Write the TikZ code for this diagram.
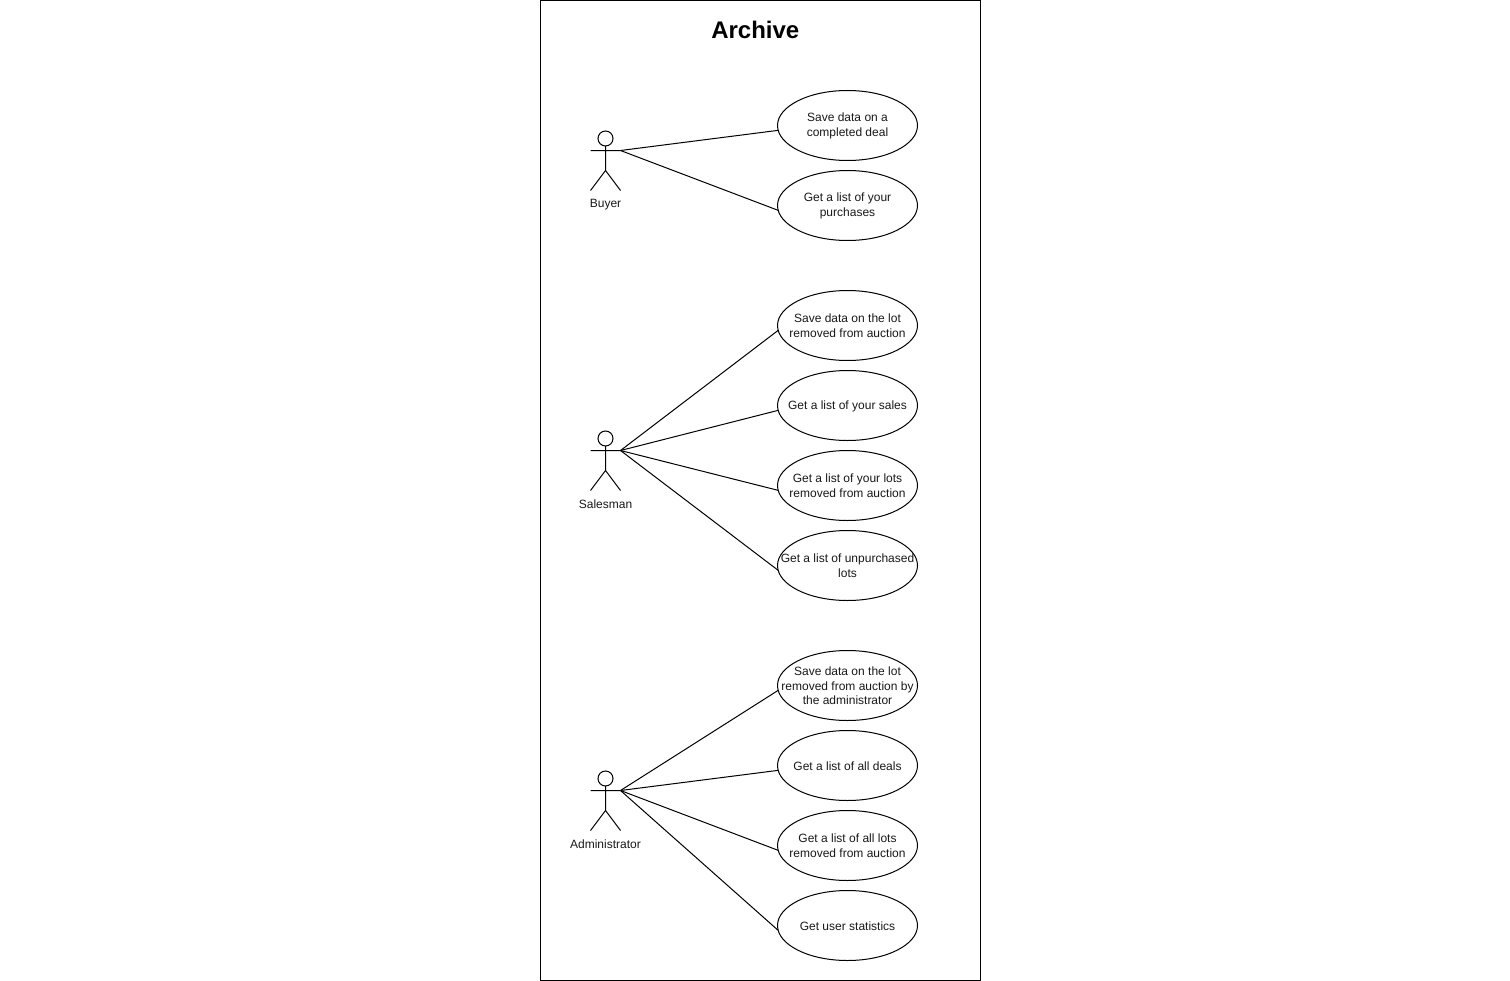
\documentclass[tikz,border=0pt]{standalone}
\usepackage{fontspec}
\setmainfont{Liberation Sans}
\usetikzlibrary{shapes.geometric}
\tikzset{
  x=0.75pt, y=-0.75pt,
  line/.style={draw=black, line width=0.75pt},
  frame/.style={line},
  uctext/.style={align=center, font=\fontsize{9}{11}\selectfont, text=black!90, inner sep=0pt, yshift=-0.3pt},
  usecase/.style={line, shape=ellipse, fill=white, minimum width=105pt, minimum height=52.5pt, inner sep=0pt, outer sep=0pt},
  actorlabel/.style={font=\fontsize{9}{11}\selectfont, text=black!90, inner sep=0pt},
  title/.style={font=\bfseries\fontsize{18}{21}\selectfont, inner sep=0pt},
  pics/actor/.style={code={
    \coordinate (-hand) at (15,0);
    \draw[line] (0,-12) circle[radius=5.625pt];
    \draw[line] (0,-4.5) -- (0,20) (-15,0) -- (15,0) (-15,40) -- (0,20) -- (15,40);
    \node[actorlabel] (-label) at (0,53.7) {#1};
  }}
}
\begin{document}
\begin{tikzpicture}
\useasboundingbox (0,0) rectangle (1510,981);
\node[frame, minimum width=330pt, minimum height=735pt, inner sep=0pt, outer sep=0pt] (box) at (760.5,490.5) {};
\node[title] (ttl) at (755.3,29.5) {Archive};

\pic (buyer) at (605.5,150.5) {actor=Buyer};
\pic (salesman) at (605.5,450.5) {actor=Salesman};
\pic (admin) at (605.5,790.5) {actor=Administrator};

\node[usecase, label={[uctext]center:Save data on a\\completed deal}] (b1) at (847.5,125.5) {};
\node[usecase, label={[uctext]center:Get a list of your\\purchases}] (b2) at (847.5,205.5) {};

\node[usecase, label={[uctext]center:Save data on the lot\\removed from auction}] (s1) at (847.5,325.5) {};
\node[usecase, label={[uctext]center:Get a list of your sales}] (s2) at (847.5,405.5) {};
\node[usecase, label={[uctext]center:Get a list of your lots\\removed from auction}] (s3) at (847.5,485.5) {};
\node[usecase, label={[uctext]center:Get a list of unpurchased\\lots}] (s4) at (847.5,565.5) {};

\node[usecase, label={[uctext]center:Save data on the lot\\removed from auction by\\the administrator}] (a1) at (847.5,685.5) {};
\node[usecase, label={[uctext]center:Get a list of all deals}] (a2) at (847.5,765.5) {};
\node[usecase, label={[uctext]center:Get a list of all lots\\removed from auction}] (a3) at (847.5,845.5) {};
\node[usecase, label={[uctext]center:Get user statistics}] (a4) at (847.5,925.5) {};

\foreach \t in {b1,b2} \draw[line] (buyer-hand) -- (\t.184);
\foreach \t in {s1,s2,s3,s4} \draw[line] (salesman-hand) -- (\t.184);
\foreach \t in {a1,a2,a3,a4} \draw[line] (admin-hand) -- (\t.184);
\end{tikzpicture}
\end{document}
